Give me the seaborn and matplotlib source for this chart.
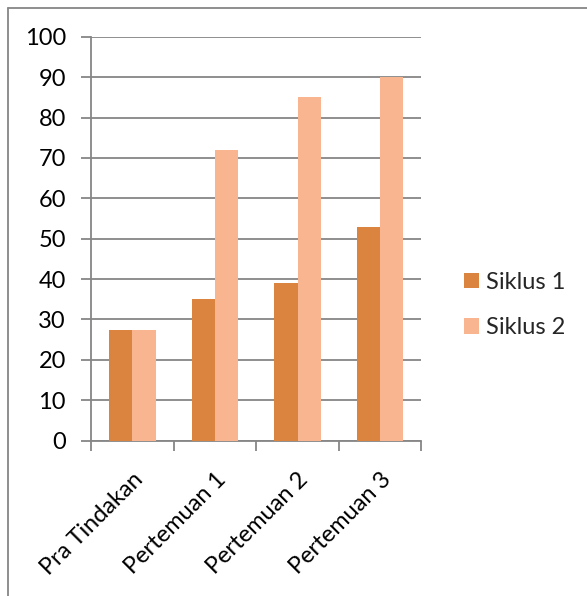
import matplotlib
matplotlib.use("Agg")
import matplotlib.pyplot as plt
from matplotlib.lines import Line2D
from matplotlib.patches import Patch
import seaborn as sns
import pandas as pd
import numpy as np

categories = ["Pra Tindakan", "Pertemuan 1", "Pertemuan 2", "Pertemuan 3"]
siklus1 = [27.4, 35, 39, 53]
siklus2 = [27.4, 72, 85, 90]
series_names = ["Siklus 1", "Siklus 2"]
colors = ["#DA843F", "#F8B58F"]
yticks = [0, 10, 20, 30, 40, 50, 60, 70, 80, 90, 100]

sns.set_theme(style="white")
plt.rcParams['font.family'] = ['Lato', 'DejaVu Sans']
FS = 17

df = pd.DataFrame({
    "cat": categories * 2,
    "val": siklus1 + siklus2,
    "series": [series_names[0]] * 4 + [series_names[1]] * 4,
})

fig = plt.figure(figsize=(5.87, 5.96), dpi=100)
ax = fig.add_axes([0.155, 0.2606, 0.563, 0.6778])

grid_c = "#868686"
sns.barplot(data=df, x="cat", y="val", hue="series", palette=colors,
            width=0.565, saturation=1, ax=ax, legend=False, zorder=3,
            linewidth=0)

ax.set_xlim(-0.5, 3.5)
ax.set_ylim(0, 100)
ax.set_yticks(yticks)
ax.yaxis.grid(True, color=grid_c, linewidth=1.3, zorder=0)
ax.set_axisbelow(True)
for s in ["top", "right"]:
    ax.spines[s].set_visible(False)
for s in ["left", "bottom"]:
    ax.spines[s].set_color(grid_c)
    ax.spines[s].set_linewidth(1.3)

ax.set_xlabel("")
ax.set_ylabel("")
ax.tick_params(axis="y", which="major", direction="out", length=7, width=1.3,
               color=grid_c, labelsize=FS, labelcolor="black", pad=11, left=True)
ax.set_xticks([-0.5, 0.5, 1.5, 2.5, 3.5])
ax.set_xticklabels([])
ax.tick_params(axis="x", which="major", direction="out", length=7, width=1.3,
               color=grid_c, bottom=True)
ax.set_xticks(range(len(categories)), minor=True)
ax.set_xticklabels(categories, minor=True, rotation=45, ha="right",
                   rotation_mode="anchor", fontsize=FS, color="black")
ax.tick_params(axis="x", which="minor", length=0, pad=20)

handles = [Patch(facecolor=c, edgecolor="none") for c in colors]
fig.legend(handles, series_names, loc="center left",
           bbox_to_anchor=(464/587, 1-305/596), frameon=False, fontsize=FS,
           handlelength=0.63, handleheight=0.63, handletextpad=0.3,
           labelspacing=1.05, borderpad=0, borderaxespad=0)

# outer frame lines (top and left)
fig.add_artist(Line2D([8/587, 1], [1-8/596, 1-8/596], transform=fig.transFigure,
                      color=grid_c, linewidth=1.3))
fig.add_artist(Line2D([8/587, 8/587], [0, 1-8/596], transform=fig.transFigure,
                      color=grid_c, linewidth=1.3))

fig.savefig("out.png", dpi=100)
